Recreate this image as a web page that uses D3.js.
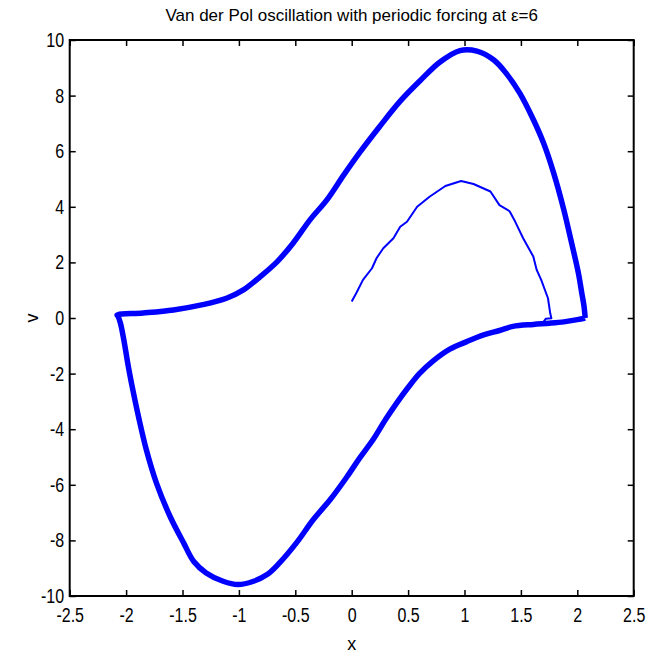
<!DOCTYPE html>
<html>
<head>
<meta charset="utf-8">
<script src="https://cdn.jsdelivr.net/npm/d3@7"></script>
<style>
  body { margin: 0; background: #fff; }
  svg { display: block; }
  text { font-family: "Liberation Sans", Arial, sans-serif; fill: #000; }
</style>
</head>
<body>
<svg id="chart" width="662" height="654"></svg>
<script>
// transient: starts at (0, 0.6) and settles onto the cycle
var transientX = [0.00, 0.04, 0.10, 0.18, 0.22, 0.28, 0.37, 0.43, 0.49, 0.58, 0.69, 0.83, 0.97, 1.08, 1.23, 1.31, 1.40, 1.45, 1.52, 1.61, 1.64, 1.68, 1.74, 1.76, 1.77, 1.72, 1.70];
var transientV = [0.59, 0.89, 1.37, 1.79, 2.15, 2.51, 2.87, 3.28, 3.46, 4.00, 4.36, 4.75, 4.93, 4.82, 4.55, 4.06, 3.84, 3.46, 2.87, 2.21, 1.73, 1.37, 0.71, 0.17, -0.01, -0.03, -0.15];

// limit cycle (clockwise), from the right tip
var cycleX = [2.07, 2.00, 1.88, 1.75, 1.61, 1.43, 1.31, 1.17, 1.02, 0.87, 0.72, 0.60, 0.50, 0.40, 0.30, 0.19, 0.07, -0.04, -0.19, -0.34, -0.49, -0.64, -0.75, -0.87, -1.01, -1.14, -1.29, -1.40, -1.49, -1.61, -1.73, -1.82, -1.89, -1.94, -1.98, -2.02, -2.05, -2.07, -2.08, -1.85, -1.58, -1.32, -1.11, -0.96, -0.81, -0.66, -0.52, -0.37, -0.22, -0.07, 0.07, 0.25, 0.43, 0.61, 0.78, 0.96, 1.11, 1.26, 1.37, 1.49, 1.61, 1.70, 1.79, 1.88, 1.95, 2.01, 2.04, 2.06, 2.07];
var cycleV = [0.00, -0.06, -0.14, -0.19, -0.23, -0.30, -0.45, -0.61, -0.85, -1.12, -1.55, -2.00, -2.50, -3.05, -3.65, -4.37, -5.04, -5.70, -6.53, -7.25, -8.09, -8.81, -9.23, -9.47, -9.59, -9.47, -9.17, -8.76, -8.09, -7.14, -5.95, -4.75, -3.55, -2.59, -1.75, -0.79, -0.19, 0.05, 0.11, 0.18, 0.29, 0.48, 0.71, 1.01, 1.49, 2.03, 2.69, 3.53, 4.25, 5.15, 5.95, 6.90, 7.80, 8.55, 9.20, 9.62, 9.60, 9.28, 8.80, 8.09, 7.14, 6.30, 5.22, 3.90, 2.69, 1.61, 0.89, 0.41, 0.00];

var xTicks = [-2.5, -2, -1.5, -1, -0.5, 0, 0.5, 1, 1.5, 2, 2.5];
var vTicks = [-10, -8, -6, -4, -2, 0, 2, 4, 6, 8, 10];

var svg = d3.select("#chart"),
    margin = {top: 40, right: 28.3, bottom: 58, left: 69.7},
    width = +svg.attr("width") - margin.left - margin.right,
    height = +svg.attr("height") - margin.top - margin.bottom,
    g = svg.append("g").attr("transform", "translate(" + margin.left + "," + margin.top + ")");

var x = d3.scaleLinear().domain([-2.5, 2.5]).range([0, width]);
var y = d3.scaleLinear().domain([-10, 10]).range([height, 0]);

var line = d3.line()
    .x(function(d) { return x(d[0]); })
    .y(function(d) { return y(d[1]); });

var cycle = d3.zip(cycleX, cycleV);
var transient = d3.zip(transientX, transientV);

g.append("path")
    .datum(cycle)
    .attr("fill", "none")
    .attr("stroke", "#0000ff")
    .attr("stroke-width", 5.5)
    .attr("stroke-linejoin", "round")
    .attr("d", line.curve(d3.curveCatmullRom.alpha(0.5)));

g.append("path")
    .datum(transient)
    .attr("fill", "none")
    .attr("stroke", "#0000ff")
    .attr("stroke-width", 2)
    .attr("stroke-linejoin", "round")
    .attr("d", line.curve(d3.curveLinear));

// axes, ticks pointing inwards on all four sides
function styleAxis(sel) {
  sel.select(".domain").remove();
  sel.selectAll(".tick line").attr("stroke", "#000").attr("stroke-width", 1.5);
  sel.selectAll(".tick text")
      .attr("font-size", 20)
      .attr("font-family", null)
      .attr("transform", "scale(0.8,1)");
}

g.append("g")
    .attr("transform", "translate(0," + height + ")")
    .call(d3.axisBottom(x).tickValues(xTicks).tickSizeInner(-6).tickPadding(12).tickFormat(String))
    .call(styleAxis);

g.append("g")
    .call(d3.axisTop(x).tickValues(xTicks).tickSizeInner(-6).tickFormat(""))
    .call(styleAxis);

g.append("g")
    .call(d3.axisLeft(y).tickValues(vTicks).tickSizeInner(-6).tickPadding(7).tickFormat(String))
    .call(styleAxis);

g.append("g")
    .attr("transform", "translate(" + width + ",0)")
    .call(d3.axisRight(y).tickValues(vTicks).tickSizeInner(-6).tickFormat(""))
    .call(styleAxis);

g.append("rect")
    .attr("width", width)
    .attr("height", height)
    .attr("fill", "none")
    .attr("stroke", "#000")
    .attr("stroke-width", 2);

svg.append("text")
    .attr("x", margin.left + width / 2)
    .attr("y", 21)
    .attr("text-anchor", "middle")
    .attr("font-size", 17)
    .text("Van der Pol oscillation with periodic forcing at ε=6");

svg.append("text")
    .attr("x", margin.left + width / 2)
    .attr("y", 650)
    .attr("text-anchor", "middle")
    .attr("font-size", 18)
    .text("x");

svg.append("text")
    .attr("transform", "translate(38," + (margin.top + height / 2) + ") rotate(-90)")
    .attr("text-anchor", "middle")
    .attr("font-size", 18)
    .text("v");
</script>
</body>
</html>
